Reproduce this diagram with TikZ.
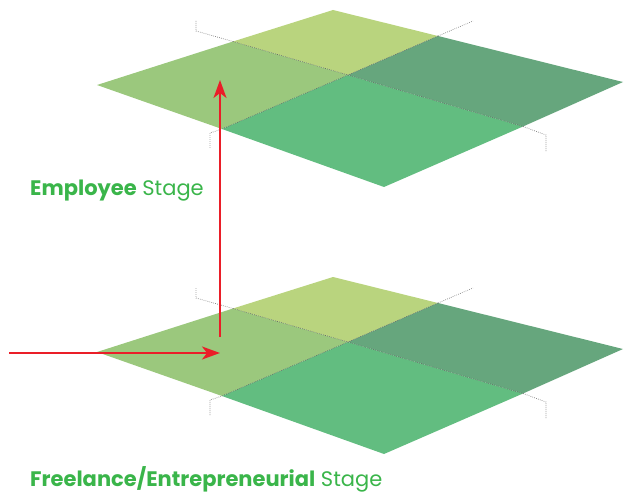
\documentclass[tikz,border=0pt]{standalone}
\usepackage{fontspec}
\setmainfont{Poppins}
\usetikzlibrary{arrows.meta}
\definecolor{quadtop}{RGB}{185,212,126}
\definecolor{quadleft}{RGB}{155,200,125}
\definecolor{quadright}{RGB}{102,166,125}
\definecolor{quadbottom}{RGB}{98,189,128}
\definecolor{flowred}{RGB}{234,30,40}
\definecolor{stagegreen}{RGB}{58,181,74}
\begin{document}
\begin{tikzpicture}[x=1pt,y=-1pt,
  guide/.style={draw=black!55, line width=0.65pt, dash pattern=on 0.7pt off 1.3pt},
  divider/.style={draw=black!60, line width=0.6pt, dash pattern=on 0.7pt off 1.3pt},
  flow/.style={draw=flowred, line width=2pt, -{Stealth[length=18pt,width=13pt,inset=5pt]}},
  stagelabel/.style={text=stagegreen, font=\fontsize{21}{23}\selectfont, anchor=base west, inner sep=0pt}]
\useasboundingbox (0,0) rectangle (624,492);

% two stacked stage planes, each split into four quadrants
\foreach \dy/\nm in {0/up,267/down}{
  \begin{scope}[shift={(0,\dy)}]
    \coordinate (\nm-T)  at (333,10);
    \coordinate (\nm-L)  at (97,85);
    \coordinate (\nm-B)  at (384,187);
    \coordinate (\nm-R)  at (623,82);
    \coordinate (\nm-C)  at (348,75);
    \coordinate (\nm-TL) at (233,41.5);
    \coordinate (\nm-TR) at (438,36);
    \coordinate (\nm-BL) at (222,129);
    \coordinate (\nm-BR) at (523,126.5);
    % guide ticks beyond the edges
    \coordinate (\nm-g1) at (196,31);
    \coordinate (\nm-g1e) at (196,21);
    \coordinate (\nm-g2) at (210,133);
    \coordinate (\nm-g2e) at (210,148);
    \coordinate (\nm-g3) at (473,21);
    \coordinate (\nm-g4) at (546,135);
    \coordinate (\nm-g4e) at (546,152);

    \fill[quadtop]    (\nm-T) -- (\nm-TR) -- (\nm-C) -- (\nm-TL) -- cycle;
    \fill[quadleft]   (\nm-L) -- (\nm-TL) -- (\nm-C) -- (\nm-BL) -- cycle;
    \fill[quadright]  (\nm-R) -- (\nm-BR) -- (\nm-C) -- (\nm-TR) -- cycle;
    \fill[quadbottom] (\nm-B) -- (\nm-BL) -- (\nm-C) -- (\nm-BR) -- cycle;

    \draw[divider] (\nm-TL) -- (\nm-C) -- (\nm-BR);
    \draw[divider] (\nm-TR) -- (\nm-C) -- (\nm-BL);
    \draw[guide] (\nm-g1e) -- (\nm-g1) -- (\nm-TL);
    \draw[guide] (\nm-g2e) -- (\nm-g2) -- (\nm-BL);
    \draw[guide] (\nm-TR) -- (\nm-g3);
    \draw[guide] (\nm-BR) -- (\nm-g4) -- (\nm-g4e);
  \end{scope}
}

% labels
\node[stagelabel] (employee) at (30,196) {\textbf{Employee} Stage};
\node[stagelabel] (freelance) at (30,486) {\textbf{Freelance/Entrepreneurial} Stage};

% red flow arrows
\coordinate (entry) at (9,353);
\coordinate (entrytip) at (220,353);
\coordinate (risebase) at (220,337);
\coordinate (risetip) at (220,80);
\draw[flow] (entry) -- (entrytip);
\draw[flow] (risebase) -- (risetip);
\end{tikzpicture}
\end{document}
